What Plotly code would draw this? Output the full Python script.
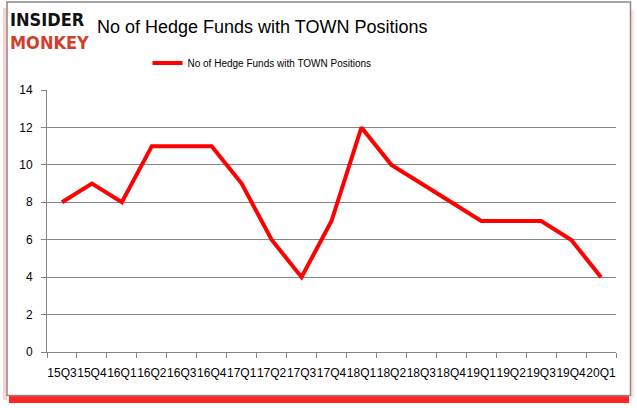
import plotly.graph_objects as go

quarters = ["15Q3", "15Q4", "16Q1", "16Q2", "16Q3", "16Q4", "17Q1", "17Q2", "17Q3", "17Q4",
            "18Q1", "18Q2", "18Q3", "18Q4", "19Q1", "19Q2", "19Q3", "19Q4", "20Q1"]
hedge_funds = [8, 9, 8, 11, 11, 11, 9, 6, 4, 7, 12, 10, 9, 8, 7, 7, 7, 6, 4]
series_name = "No of Hedge Funds with TOWN Positions"
title_text = "No of Hedge Funds with TOWN Positions"
y_ticks = [0, 2, 4, 6, 8, 10, 12, 14]

W, H = 637, 408
L, R, T, B = 47, 21, 90, 56
pw, ph = W - L - R, H - T - B


def xp(px):
    return (px - L) / pw


def yp(py):
    return (H - B - py) / ph


fig = go.Figure()
fig.add_trace(go.Scatter(
    x=quarters, y=hedge_funds, mode="lines", name=series_name,
    line=dict(color="#ff0000", width=4), showlegend=True,
))

grid = "#868686"
fig.update_layout(
    width=W, height=H,
    margin=dict(l=L, r=R, t=T, b=B, autoexpand=False),
    paper_bgcolor="white", plot_bgcolor="white",
    font=dict(family="Liberation Sans", size=12, color="black"),
    showlegend=True,
    legend=dict(orientation="h", x=xp(262), xanchor="center", y=yp(63), yanchor="middle",
                font=dict(size=10), bgcolor="rgba(0,0,0,0)", itemwidth=30),
    xaxis=dict(type="category", range=[-0.5, len(quarters) - 0.5], showgrid=False,
               showline=True, linecolor=grid, linewidth=1,
               ticks="outside", tickson="boundaries", ticklen=5, tickcolor=grid,
               tickangle=0, tickfont=dict(size=12), ticklabelstandoff=10, fixedrange=True),
    yaxis=dict(range=[0, 14], tickvals=y_ticks, showgrid=True, gridcolor=grid, gridwidth=1,
               showline=True, linecolor=grid, linewidth=1, ticks="outside", ticklen=5,
               tickcolor=grid, zeroline=False, tickfont=dict(size=12), ticklabelstandoff=6,
               fixedrange=True),
)

shapes = [
    dict(type="rect", xref="paper", yref="paper", x0=xp(9), x1=xp(629), y0=yp(403), y1=yp(396),
         fillcolor="#ff0000", line=dict(width=0), layer="below", opacity=0.85),
    dict(type="rect", xref="paper", yref="paper", x0=xp(3), x1=xp(7), y0=yp(400), y1=yp(8),
         fillcolor="#ffb0b0", line=dict(width=0), layer="below", opacity=0.6),
    dict(type="rect", xref="paper", yref="paper", x0=xp(631), x1=xp(634), y0=yp(398), y1=yp(10),
         fillcolor="#ffd0d0", line=dict(width=0), layer="below", opacity=0.6),
    dict(type="rect", xref="paper", yref="paper", x0=xp(7), x1=xp(630.5), y0=yp(395.5), y1=yp(2),
         fillcolor="white", line=dict(color="#8a8a8a", width=1.5), layer="below"),
]
fig.update_layout(shapes=shapes)

fig.add_annotation(text=title_text, xref="paper", yref="paper", x=xp(95), y=yp(27),
                   xanchor="left", yanchor="middle", showarrow=False,
                   font=dict(family="Liberation Sans", size=18, color="black"))
fig.add_annotation(text="<b>INSIDER</b><br><span style='color:#d0402c'><b>MONKEY</b></span>",
                   xref="paper", yref="paper", x=xp(8), y=yp(31),
                   xanchor="left", yanchor="middle", align="left", showarrow=False,
                   font=dict(family="DejaVu Sans Condensed", size=18, color="#111111"))

fig.write_html("out.html", config={"displayModeBar": False},
               post_script="document.body.style.margin='0';")
